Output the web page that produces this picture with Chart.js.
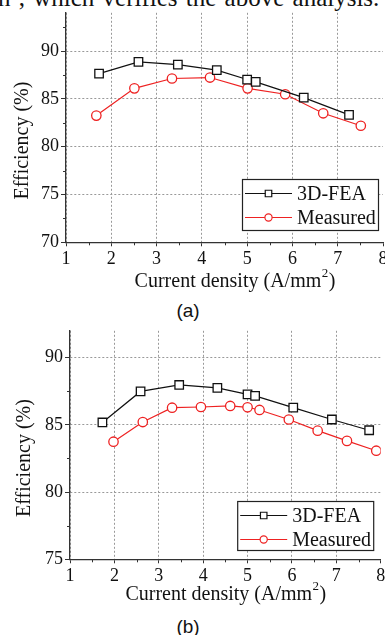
<!DOCTYPE html>
<html>
<head>
<meta charset="utf-8">
<script src="https://cdn.jsdelivr.net/npm/chart.js@4.4.1/dist/chart.umd.min.js"></script>
<style>
  html, body { margin: 0; padding: 0; background: #fff; width: 385px; height: 635px; overflow: hidden; }
  body { position: relative; }
  canvas { position: absolute; left: 0; }
  #chartA { top: 0; }
  #chartB { top: 318px; }
  .cap { position: absolute; width: 60px; text-align: center; font: 19px "Liberation Sans", Arial, sans-serif; color: #111; }
  #topText { position: absolute; left: -2px; top: -12px; font-family: "Liberation Serif", serif; font-size: 25px; line-height: 20px; word-spacing: 2px; white-space: nowrap; color: #111; }
</style>
</head>
<body>
<div id="topText">n , which verifies the above analysis.</div>
<canvas id="chartA" width="400" height="293"></canvas>
<div class="cap" style="left:158px; top:300px">(a)</div>
<canvas id="chartB" width="400" height="289"></canvas>
<div class="cap" style="left:158px; top:616px">(b)</div>

<script>
const seriesNames = ['3D-FEA', 'Measured'];
const xTicks = [1, 2, 3, 4, 5, 6, 7, 8];
const yTicksA = [70, 75, 80, 85, 90];
const yTicksB = [75, 80, 85, 90];

// (a)
const feaXa = [1.73, 2.60, 3.47, 4.33, 5.00, 5.19, 6.25, 7.25];
const feaYa = [87.64, 88.87, 88.59, 88.00, 87.02, 86.78, 85.13, 83.33];
const measXa = [1.67, 2.51, 3.34, 4.18, 5.01, 5.84, 6.68, 7.51];
const measYa = [83.25, 86.10, 87.13, 87.23, 86.10, 85.48, 83.49, 82.19];

// (b)
const feaXb = [1.73, 2.59, 3.46, 4.32, 5.00, 5.17, 6.03, 6.90, 7.74];
const feaYb = [85.18, 87.49, 87.97, 87.75, 87.27, 87.16, 86.28, 85.40, 84.60];
const measXb = [1.98, 2.64, 3.30, 3.95, 4.61, 5.00, 5.27, 5.93, 6.58, 7.24, 7.90];
const measYb = [83.75, 85.21, 86.28, 86.33, 86.41, 86.31, 86.11, 85.40, 84.57, 83.81, 83.08];

const serif = '"Liberation Serif", "Times New Roman", serif';
const RED = '#ee2222';

const toPoints = (xs, ys) => xs.map((x, i) => ({ x: x, y: ys[i] }));

// minor ticks, axis titles and the boxed legend
const extras = {
  id: 'extras',
  afterDraw(chart, args, o) {
    const ctx = chart.ctx, a = chart.chartArea;
    const xs = chart.scales.x, ys = chart.scales.y;
    ctx.save();

    ctx.strokeStyle = '#333';
    ctx.lineWidth = 1;
    ctx.beginPath();
    for (let i = 0; i < xTicks.length - 1; i++) {
      const px = Math.round(xs.getPixelForValue((xTicks[i] + xTicks[i + 1]) / 2)) + 0.5;
      ctx.moveTo(px, a.bottom);
      ctx.lineTo(px, a.bottom + 3);
    }
    const yt = o.yTicks;
    for (let i = 0; i < yt.length; i++) {
      const v = yt[i] + 2.5;
      if (v >= ys.max) break;
      const py = Math.round(ys.getPixelForValue(v)) + 0.5;
      ctx.moveTo(a.left, py);
      ctx.lineTo(a.left - 3, py);
    }
    ctx.stroke();

    // x title with superscript
    ctx.fillStyle = '#111';
    ctx.textBaseline = 'middle';
    ctx.textAlign = 'left';
    const big = '20px ' + serif, small = '13px ' + serif;
    const p1 = 'Current density (A/mm', p2 = '2', p3 = ')';
    ctx.font = big;
    const w1 = ctx.measureText(p1).width, w3 = ctx.measureText(p3).width;
    ctx.font = small;
    const w2 = ctx.measureText(p2).width;
    let tx = (a.left + a.right) / 2 + o.xTitleDx - (w1 + w2 + w3) / 2;
    const ty = a.bottom + o.xTitleDy;
    ctx.font = big;
    ctx.fillText(p1, tx, ty);
    ctx.font = small;
    ctx.fillText(p2, tx + w1 + 0.5, ty - 8);
    ctx.font = big;
    ctx.fillText(p3, tx + w1 + w2 + 1, ty);

    // y title
    ctx.save();
    ctx.translate(o.yTitleX, (a.top + a.bottom) / 2 + o.yTitleDy);
    ctx.rotate(-Math.PI / 2);
    ctx.textAlign = 'center';
    ctx.font = big;
    ctx.fillText('Efficiency (%)', 0, 0);
    ctx.restore();

    // legend
    const L = o.legend;
    const bx = a.right - L.right - L.width, by = a.bottom - L.bottom - L.height;
    ctx.fillStyle = '#fff';
    ctx.fillRect(bx, by, L.width, L.height);
    ctx.strokeStyle = '#222';
    ctx.lineWidth = 1.2;
    ctx.strokeRect(bx + 0.5, by + 0.5, L.width, L.height);
    chart.data.datasets.forEach((ds, i) => {
      const ry = by + 14.5 + i * 24;
      ctx.strokeStyle = ds.borderColor;
      ctx.lineWidth = 1.2;
      ctx.beginPath();
      ctx.moveTo(bx + 3, ry);
      ctx.lineTo(bx + 50, ry);
      ctx.stroke();
      ctx.fillStyle = '#fff';
      Chart.helpers.drawPoint(ctx, {
        pointStyle: ds.pointStyle, radius: ds.pointStyle === 'rect' ? 4.6 : 3.6,
        rotation: 0, borderWidth: 1.2
      }, bx + 26.5, ry);
      ctx.fillStyle = '#111';
      ctx.font = big;
      ctx.textAlign = 'left';
      ctx.fillText(ds.label, bx + 55, ry + 1);
    });
    ctx.restore();
  }
};

function makeChart(id, fea, meas, yMin, yMax, yTicks, lay) {
  return new Chart(document.getElementById(id), {
    type: 'scatter',
    data: {
      datasets: [{
        label: seriesNames[0],
        data: fea,
        showLine: true,
        borderColor: '#111',
        borderWidth: 1.2,
        pointStyle: 'rect',
        pointRadius: 6,
        pointBorderWidth: 1.3,
        pointBackgroundColor: '#fff',
        pointBorderColor: '#111'
      }, {
        label: seriesNames[1],
        data: meas,
        showLine: true,
        borderColor: RED,
        borderWidth: 1.2,
        pointStyle: 'circle',
        pointRadius: 4.7,
        pointBorderWidth: 1.3,
        pointBackgroundColor: '#fff',
        pointBorderColor: RED
      }]
    },
    options: {
      responsive: false,
      animation: false,
      devicePixelRatio: 1,
      layout: { padding: { left: 0, top: lay.top, right: lay.right, bottom: 0 } },
      plugins: {
        legend: { display: false },
        tooltip: { enabled: false },
        extras: {
          yTicks: yTicks,
          xTitleDx: lay.xTitleDx, xTitleDy: lay.xTitleDy,
          yTitleX: lay.yTitleX, yTitleDy: 13,
          legend: lay.legend
        }
      },
      scales: {
        x: {
          type: 'linear',
          min: 1, max: 8,
          afterBuildTicks: s => { s.ticks = xTicks.map(v => ({ value: v })); },
          afterFit: s => { s.height = lay.xHeight; },
          grid: {
            color: c => (c.tick && c.tick.value === 8) ? 'rgba(0,0,0,0)' : '#999',
            lineWidth: 1,
            tickLength: 4,
            tickColor: '#333',
            tickWidth: 1
          },
          border: { color: '#333', width: 1.3, dash: [2, 2] },
          ticks: { font: { family: serif, size: 18 }, color: '#111', padding: 2, maxRotation: 0 }
        },
        y: {
          min: yMin, max: yMax,
          afterBuildTicks: s => { s.ticks = yTicks.map(v => ({ value: v })); },
          afterFit: s => { s.width = lay.yWidth; },
          grid: {
            color: '#999',
            lineWidth: 1,
            tickLength: 5,
            tickColor: '#333',
            tickWidth: 1
          },
          border: { color: '#333', width: 1.3, dash: [2, 2] },
          ticks: { font: { family: serif, size: 18 }, color: '#111', padding: 2 }
        }
      }
    },
    plugins: [extras]
  });
}

makeChart('chartA', toPoints(feaXa, feaYa), toPoints(measXa, measYa), 70, 94, yTicksA, {
  top: 11, right: 17, yWidth: 66, xHeight: 50.7,
  xTitleDx: 10, xTitleDy: 39.4, yTitleX: 23,
  legend: { right: 5, bottom: 12.3, width: 136, height: 51 }
});

makeChart('chartB', toPoints(feaXb, feaYb), toPoints(measXb, measYb), 75, 92, yTicksB, {
  top: 10.3, right: 19.3, yWidth: 70, xHeight: 47.7,
  xTitleDx: 0, xTitleDy: 35.7, yTitleX: 24.5,
  legend: { right: 7.5, bottom: 9.3, width: 136, height: 49 }
});
</script>
</body>
</html>
